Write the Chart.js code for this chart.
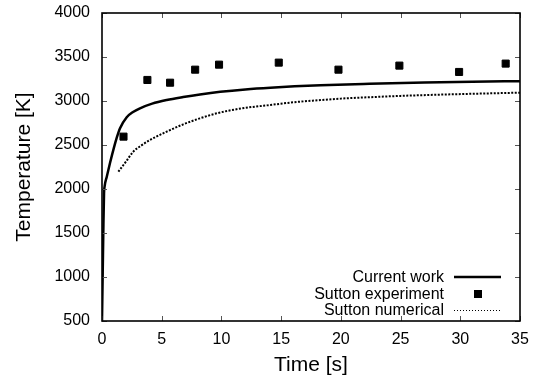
<!DOCTYPE html>
<html>
<head>
<meta charset="utf-8">
<script src="https://cdn.jsdelivr.net/npm/chart.js@4.4.1/dist/chart.umd.min.js"></script>
<style>
  html, body { margin: 0; padding: 0; background: #fff; }
  #wrap { width: 539px; height: 381px; }
</style>
</head>
<body>
<div id="wrap"><canvas id="c" width="539" height="381"></canvas></div>
<script>
// ---- data ----
const currentTime = [0, 0.06, 0.12, 0.17, 0.22, 0.4, 0.67, 1.0, 1.23, 1.51, 2.07, 2.6, 3.18, 4.2, 5.42, 6.8, 8.2, 9.9, 12, 14.1, 18.3, 22.4, 27, 31, 35];
const currentTemp = [500, 1050, 1600, 1950, 2030, 2140, 2295, 2470, 2580, 2690, 2815, 2875, 2917, 2970, 3011, 3045, 3075, 3105, 3132, 3151, 3178, 3195, 3210, 3219, 3225];

const expTime = [1.8, 3.8, 5.7, 7.8, 9.8, 14.8, 19.8, 24.9, 29.9, 33.8];
const expTemp = [2595, 3239, 3208, 3356, 3413, 3436, 3356, 3402, 3330, 3425];

const numTime = [1.37, 2.0, 2.62, 3.3, 4.02, 5.42, 6.81, 8.2, 9.6, 10.6, 12, 14.1, 16, 18.3, 20, 22.4, 25, 28, 31, 35];
const numTemp = [2197, 2310, 2424, 2495, 2557, 2652, 2735, 2803, 2860, 2890, 2922, 2955, 2985, 3011, 3027, 3043, 3058, 3071, 3082, 3095];

const xTicks = [0, 5, 10, 15, 20, 25, 30, 35];
const yTicks = [500, 1000, 1500, 2000, 2500, 3000, 3500, 4000];

const seriesLabels = ['Current work', 'Sutton experiment', 'Sutton numerical'];
const xTitle = 'Time [s]';
const yTitle = 'Temperature [K]';

const toXY = (xs, ys) => xs.map((x, i) => ({ x: x, y: ys[i] }));

const FONT = '"Liberation Sans", Arial, Helvetica, sans-serif';

// frame + inward ticks on all four sides
const framePlugin = {
  id: 'frame',
  afterDatasetsDraw(chart) {
    const { ctx, chartArea: a, scales } = chart;
    ctx.save();
    ctx.strokeStyle = '#555';
    ctx.lineWidth = 1;
    const L = 5;
    xTicks.forEach(v => {
      const px = Math.round(scales.x.getPixelForValue(v)) + 0.5;
      ctx.beginPath();
      ctx.moveTo(px, a.bottom); ctx.lineTo(px, a.bottom - L);
      ctx.moveTo(px, a.top); ctx.lineTo(px, a.top + L);
      ctx.stroke();
    });
    yTicks.forEach(v => {
      const py = Math.round(scales.y.getPixelForValue(v)) + 0.5;
      ctx.beginPath();
      ctx.moveTo(a.left, py); ctx.lineTo(a.left + L, py);
      ctx.moveTo(a.right, py); ctx.lineTo(a.right - L, py);
      ctx.stroke();
    });
    ctx.strokeStyle = '#000';
    ctx.lineWidth = 1.6;
    ctx.strokeRect(a.left, a.top, a.right - a.left, a.bottom - a.top);
    ctx.restore();
  }
};

// legend inside lower right: text right-aligned, sample to the right
const legendPlugin = {
  id: 'innerLegend',
  afterDraw(chart) {
    const { ctx } = chart;
    const ds = chart.data.datasets;
    const textRight = 444;
    const sx0 = 454, sx1 = 501;
    const rows = [277, 294, 310];
    ctx.save();
    ctx.font = '16px ' + FONT;
    ctx.fillStyle = '#000';
    ctx.textAlign = 'right';
    ctx.textBaseline = 'middle';
    ds.forEach((d, i) => {
      const y = rows[i];
      ctx.fillText(d.label, textRight, y + 1);
      if (i === 0) {
        ctx.strokeStyle = '#000';
        ctx.lineWidth = 2.5;
        ctx.beginPath(); ctx.moveTo(sx0, y); ctx.lineTo(sx1, y); ctx.stroke();
      } else if (i === 1) {
        ctx.fillRect(474, y - 4, 8, 8);
      } else {
        ctx.strokeStyle = '#000';
        ctx.lineWidth = 1;
        ctx.setLineDash([1, 2]);
        ctx.beginPath(); ctx.moveTo(sx0, y + 0.5); ctx.lineTo(sx1, y + 0.5); ctx.stroke();
        ctx.setLineDash([]);
      }
    });
    ctx.restore();
  }
};

new Chart(document.getElementById('c'), {
  type: 'scatter',
  data: {
    datasets: [
      {
        label: seriesLabels[0],
        data: toXY(currentTime, currentTemp),
        showLine: true,
        borderColor: '#000',
        borderWidth: 2.5,
        pointRadius: 0,
        cubicInterpolationMode: 'monotone',
        fill: false
      },
      {
        label: seriesLabels[1],
        data: toXY(expTime, expTemp),
        showLine: false,
        pointStyle: 'rect',
        pointRadius: 5,
        pointBackgroundColor: '#000',
        pointBorderColor: '#000',
        pointBorderWidth: 1
      },
      {
        label: seriesLabels[2],
        data: toXY(numTime, numTemp),
        showLine: true,
        borderColor: '#000',
        borderWidth: 2,
        borderDash: [2, 1.5],
        pointRadius: 0,
        cubicInterpolationMode: 'monotone',
        fill: false
      }
    ]
  },
  options: {
    responsive: false,
    animation: false,
    layout: { padding: { left: 0, top: 13, right: 19, bottom: 0 } },
    plugins: { legend: { display: false }, tooltip: { enabled: false } },
    scales: {
      x: {
        type: 'linear',
        min: 0, max: 35,
        afterBuildTicks: s => { s.ticks = xTicks.map(v => ({ value: v })); },
        afterFit: s => { s.height = 60; s.paddingLeft = 0; s.paddingRight = 0; },
        grid: { display: false, drawTicks: false },
        border: { display: false },
        ticks: { color: '#000', font: { size: 16, family: FONT }, padding: 9, maxRotation: 0, callback: v => String(v) },
        title: { display: true, text: xTitle, color: '#000', font: { size: 21, family: FONT }, padding: { top: 0, bottom: 3 } }
      },
      y: {
        type: 'linear',
        min: 500, max: 4000,
        afterBuildTicks: s => { s.ticks = yTicks.map(v => ({ value: v })); },
        afterFit: s => { s.width = 102; s.paddingTop = 0; s.paddingBottom = 0; },
        grid: { display: false, drawTicks: false },
        border: { display: false },
        ticks: { color: '#000', font: { size: 16, family: FONT }, padding: 12, callback: v => String(v) },
        title: { display: true, text: yTitle, color: '#000', font: { size: 21, family: FONT }, padding: { top: 12, bottom: 0 } }
      }
    }
  },
  plugins: [framePlugin, legendPlugin]
});
</script>
</body>
</html>
